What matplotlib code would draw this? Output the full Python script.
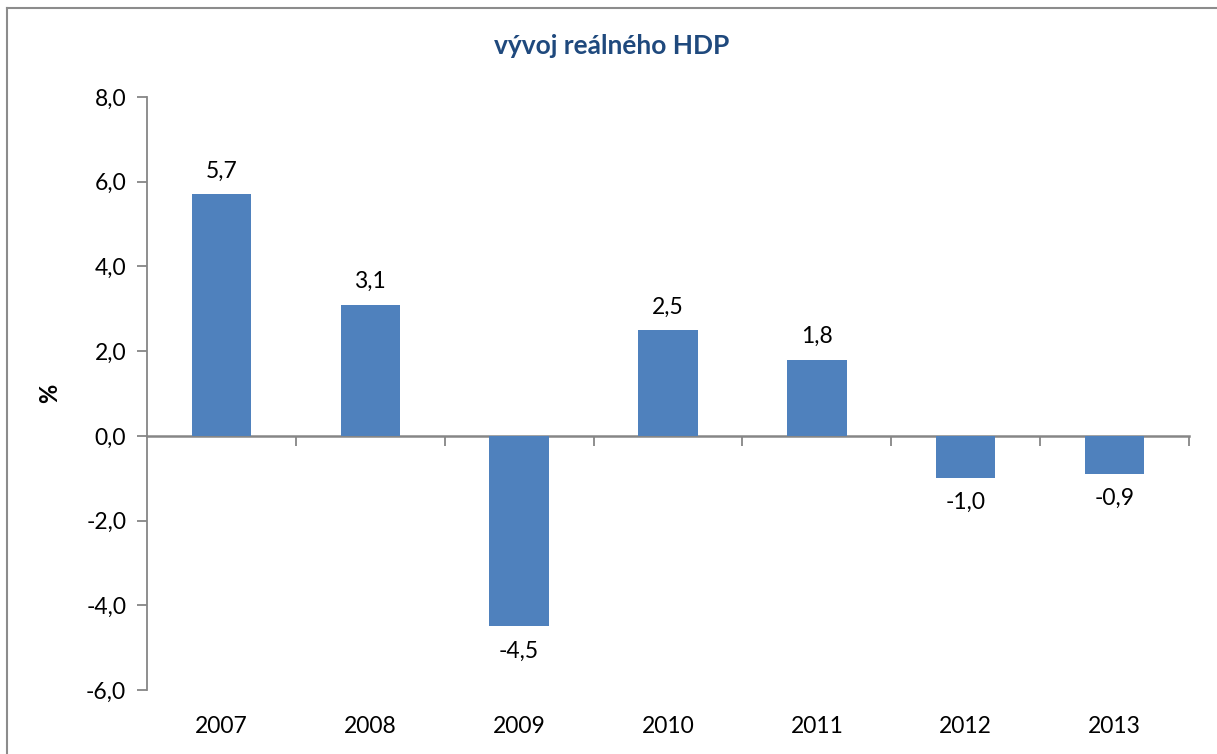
import matplotlib.pyplot as plt
from matplotlib.lines import Line2D

# ── Data ───────────────────────────────────────────────────────────────────
roky = ["2007", "2008", "2009", "2010", "2011", "2012", "2013"]
hdp = [5.7, 3.1, -4.5, 2.5, 1.8, -1.0, -0.9]
y_ticks = [-6, -4, -2, 0, 2, 4, 6, 8]

plt.rcParams["font.family"] = ["Lato", "DejaVu Sans"]

fig = plt.figure(figsize=(12.17, 7.54), dpi=100)
ax = fig.add_axes([147 / 1217, 1 - 690 / 754, (1189 - 147) / 1217, (690 - 97) / 754])

axis_col = "#868686"
fs = 16.5
x = list(range(len(roky)))
bars = ax.bar(x, hdp, width=0.4, color="#4F81BD", zorder=2)

# popisky hodnot
for xi, v in zip(x, hdp):
    txt = f"{v:.1f}".replace(".", ",")
    if v >= 0:
        ax.annotate(txt, (xi, v), xytext=(0, 9), textcoords="offset points",
                    ha="center", va="bottom", fontsize=fs)
    else:
        ax.annotate(txt, (xi, v), xytext=(0, -10), textcoords="offset points",
                    ha="center", va="top", fontsize=fs)

ax.set_xlim(-0.5, len(roky) - 0.5)
ax.set_ylim(-6, 8)
ax.set_yticks(y_ticks)
ax.set_yticklabels([f"{t:.1f}".replace(".", ",") for t in y_ticks], fontsize=fs)
ax.tick_params(axis="y", direction="out", length=7, color=axis_col, width=1.3, pad=8)

# kategorie dole, bez čárek
ax.set_xticks(x)
ax.set_xticklabels(roky, fontsize=fs)
ax.tick_params(axis="x", length=0, pad=19)

for s in ["top", "right", "bottom"]:
    ax.spines[s].set_visible(False)
ax.spines["left"].set_color(axis_col)
ax.spines["left"].set_linewidth(1.3)

# osa x na nule s čárkami mezi kategoriemi
sec = ax.secondary_xaxis(6 / 14)
sec.set_xticks([i + 0.5 for i in x])
sec.set_xticklabels([])
sec.tick_params(direction="out", length=7, color=axis_col, width=1.3)
sec.spines["bottom"].set_color(axis_col)
sec.spines["bottom"].set_linewidth(1.8)

ax.set_ylabel("%", fontsize=17, fontweight="bold", labelpad=18)

fig.text(612 / 1217, 1 - 46 / 754, "vývoj reálného HDP", ha="center", va="center",
         fontsize=19, fontweight="bold", color="#1F497D")

# rámeček grafu
fig.add_artist(Line2D([7 / 1217, 1], [1 - 8 / 754, 1 - 8 / 754], transform=fig.transFigure,
                      color="#8c8c8c", lw=1.5))
fig.add_artist(Line2D([7 / 1217, 7 / 1217], [0, 1 - 8 / 754], transform=fig.transFigure,
                      color="#8c8c8c", lw=1.5))

fig.savefig("out.png", dpi=100)
